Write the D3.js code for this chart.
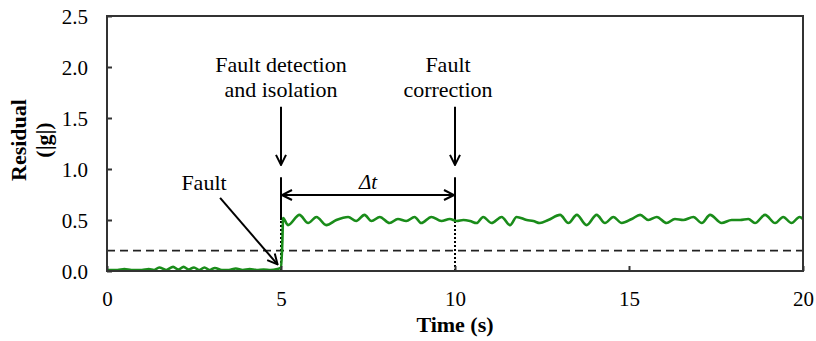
<!DOCTYPE html>
<html>
<head>
<meta charset="utf-8">
<script src="https://cdn.jsdelivr.net/npm/d3@7"></script>
<style>
  body { margin: 0; background: #fff; }
  svg { display: block; }
  text { font-family: "Liberation Serif", "Times New Roman", serif; fill: #000; }
</style>
</head>
<body>
<svg id="chart" width="816" height="341"></svg>
<script>
// residual |g| (time in s)
const time = [0, 0.3, 0.5, 0.7, 1.0, 1.2, 1.35, 1.5, 1.7, 1.9, 2.05, 2.2, 2.35, 2.5, 2.65, 2.8, 2.95, 3.1, 3.3, 3.5, 3.7, 3.9, 4.1, 4.3, 4.5, 4.7, 4.9, 5.0, 5.04,
  5.06, 5.2, 5.53, 5.78, 6.02, 6.3, 6.59, 6.93, 7.16, 7.4, 7.6, 7.84, 8.12, 8.36, 8.6, 8.84, 9.03, 9.32, 9.61, 9.85, 10.05,
  10.24, 10.43, 10.62, 10.81, 11.05, 11.34, 11.58, 11.77, 12.06, 12.25, 12.44, 12.68, 13.02, 13.26, 13.5, 13.78, 14.07, 14.31, 14.55, 14.79,
  15.08, 15.32, 15.56, 15.8, 16.08, 16.32, 16.56, 16.85, 17.09, 17.33, 17.66, 17.95, 18.19, 18.43, 18.62, 18.91, 19.2, 19.43, 19.67, 19.9, 20];
const residual = [0.01, 0.01, 0.02, 0.01, 0.01, 0.02, 0.01, 0.035, 0.01, 0.04, 0.015, 0.04, 0.015, 0.035, 0.01, 0.035, 0.01, 0.03, 0.01, 0.01, 0.025, 0.01, 0.02, 0.01, 0.015, 0.01, 0.02, 0.03, 0.3,
  0.52, 0.45, 0.55, 0.47, 0.53, 0.45, 0.50, 0.53, 0.49, 0.55, 0.49, 0.53, 0.47, 0.51, 0.49, 0.53, 0.47, 0.53, 0.49, 0.51, 0.49,
  0.50, 0.49, 0.47, 0.53, 0.47, 0.53, 0.45, 0.53, 0.50, 0.49, 0.47, 0.50, 0.55, 0.47, 0.55, 0.45, 0.55, 0.47, 0.53, 0.47,
  0.51, 0.55, 0.50, 0.53, 0.47, 0.51, 0.50, 0.53, 0.47, 0.55, 0.47, 0.50, 0.50, 0.51, 0.47, 0.55, 0.47, 0.53, 0.47, 0.53, 0.51];
const threshold = 0.2;
const yTicks = [0, 0.5, 1.0, 1.5, 2.0, 2.5];
const xTicks = [0, 5, 10, 15, 20];
const tDetect = 5, tCorrect = 10;

const svg = d3.select("#chart");
const x = d3.scaleLinear().domain([0, 20]).range([107, 803]);
const y = d3.scaleLinear().domain([0, 2.5]).range([271, 16]);

// arrow head marker
const defs = svg.append("defs");
defs.append("marker").attr("id", "head")
  .attr("viewBox", "0 0 12 12").attr("refX", 11).attr("refY", 6)
  .attr("markerWidth", 12).attr("markerHeight", 12).attr("markerUnits", "userSpaceOnUse")
  .attr("orient", "auto-start-reverse")
  .append("path").attr("d", "M1,1 L11,6 L1,11").attr("fill", "none").attr("stroke", "#000").attr("stroke-width", 2);

// threshold
svg.append("line")
  .attr("x1", x(0)).attr("x2", x(20)).attr("y1", y(threshold)).attr("y2", y(threshold))
  .attr("stroke", "#222").attr("stroke-width", 1.6).attr("stroke-dasharray", "8,5");

// dotted markers at events (below 0.5)
[tDetect, tCorrect].forEach(t => {
  svg.append("line").attr("x1", x(t)).attr("x2", x(t)).attr("y1", y(0)).attr("y2", y(0.5))
    .attr("stroke", "#000").attr("stroke-width", 2).attr("stroke-dasharray", "2,2");
  svg.append("line").attr("x1", x(t)).attr("x2", x(t)).attr("y1", y(0.5)).attr("y2", y(0.92))
    .attr("stroke", "#000").attr("stroke-width", 2);
  svg.append("line").attr("x1", x(t)).attr("x2", x(t)).attr("y1", y(1.61)).attr("y2", y(1.04))
    .attr("stroke", "#000").attr("stroke-width", 2).attr("marker-end", "url(#head)");
});

// residual line
const line = d3.line().curve(d3.curveMonotoneX).x((d, i) => x(time[i])).y(d => y(d));
svg.append("path").datum(residual).attr("d", line)
  .attr("fill", "none").attr("stroke", "#1a8c1a").attr("stroke-width", 2.6).attr("stroke-linejoin", "round");

// delta t arrow
svg.append("line").attr("x1", x(tDetect) + 1).attr("x2", x(tCorrect) - 1).attr("y1", y(0.745)).attr("y2", y(0.745))
  .attr("stroke", "#000").attr("stroke-width", 2)
  .attr("marker-start", "url(#head)").attr("marker-end", "url(#head)");
svg.append("text").attr("x", x((tDetect + tCorrect) / 2)).attr("y", 189)
  .attr("text-anchor", "middle").style("font-size", "21px").style("font-style", "italic").text("\u0394t");

// fault arrow
svg.append("line").attr("x1", x(3.25)).attr("y1", y(0.716)).attr("x2", x(4.9)).attr("y2", y(0.065))
  .attr("stroke", "#000").attr("stroke-width", 2).attr("marker-end", "url(#head)");
svg.append("text").attr("x", 204).attr("y", 190).attr("text-anchor", "middle").style("font-size", "22px").text("Fault");

// event labels
const labels = svg.append("g").attr("text-anchor", "middle").style("font-size", "22px");
labels.append("text").attr("x", x(tDetect)).attr("y", 72).text("Fault detection");
labels.append("text").attr("x", x(tDetect)).attr("y", 97).text("and isolation");
labels.append("text").attr("x", x(tCorrect) - 7).attr("y", 72).text("Fault");
labels.append("text").attr("x", x(tCorrect) - 7).attr("y", 97).text("correction");

// axes
const yAxis = svg.append("g").attr("transform", `translate(${x(0)},0)`)
  .call(d3.axisLeft(y).tickValues(yTicks).tickFormat(d3.format(".1f")).tickSize(-5).tickPadding(19));
const xAxis = svg.append("g").attr("transform", `translate(0,${y(0)})`)
  .call(d3.axisBottom(x).tickValues(xTicks).tickSize(-5).tickPadding(20));
[xAxis, yAxis].forEach(g => {
  g.select(".domain").remove();
  g.selectAll(".tick line").attr("stroke", "#333").attr("stroke-width", 2);
  g.selectAll(".tick text").style("font-family", "Liberation Serif").style("font-size", "21px").attr("fill", "#000");
});
yAxis.selectAll(".tick text").attr("dy", "0.35em");

// frame
svg.append("rect").attr("x", x(0)).attr("y", y(2.5)).attr("width", x(20) - x(0)).attr("height", y(0) - y(2.5))
  .attr("fill", "none").attr("stroke", "#333").attr("stroke-width", 2);

// axis titles
svg.append("text").attr("x", 455).attr("y", 332).attr("text-anchor", "middle")
  .style("font-size", "22px").style("font-weight", "bold").text("Time (s)");
const yt = svg.append("g").attr("transform", "translate(0,140) rotate(-90)")
  .attr("text-anchor", "middle").style("font-size", "22px").style("font-weight", "bold");
yt.append("text").attr("x", 0).attr("y", 26).text("Residual");
yt.append("text").attr("x", 0).attr("y", 51).text("(|g|)");
</script>
</body>
</html>
